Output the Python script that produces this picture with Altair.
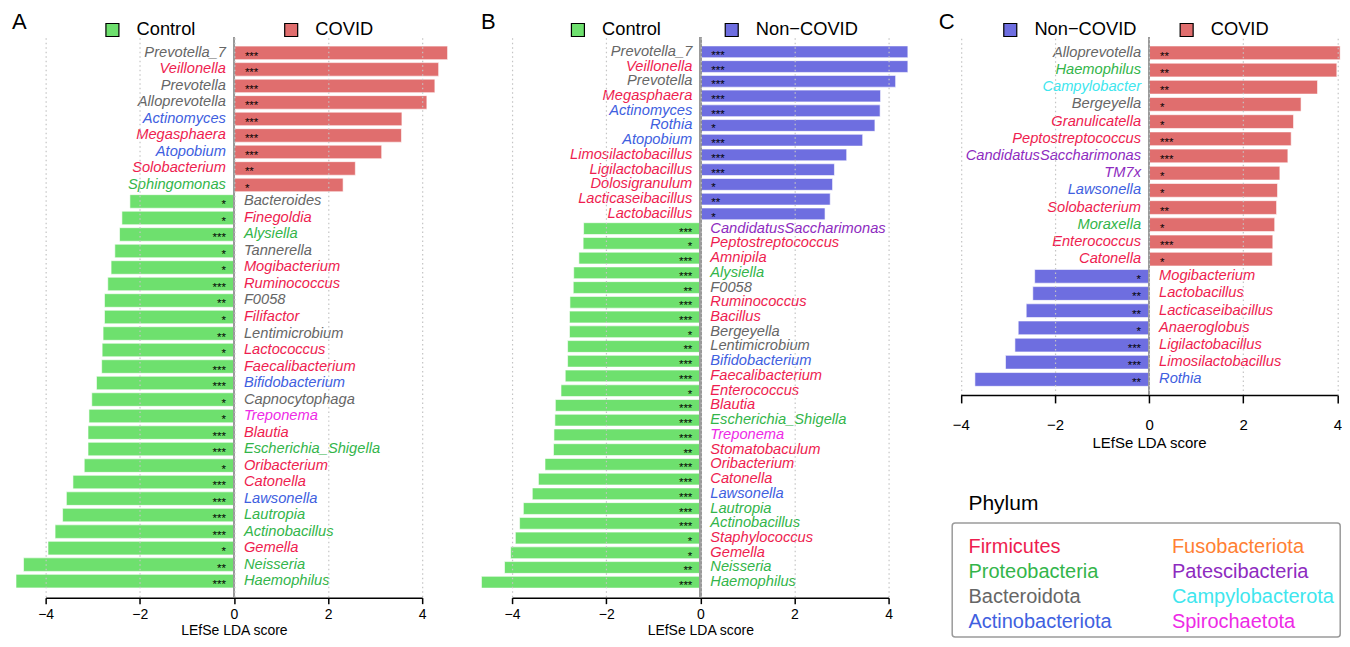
import altair as alt
import pandas as pd

FONT = "Liberation Sans"

# ---------------- phylum palette ----------------
PHYLA = ["Firmicutes", "Proteobacteria", "Bacteroidota", "Actinobacteriota",
         "Fusobacteriota", "Patescibacteria", "Campylobacterota", "Spirochaetota"]
PHYLUM_COLORS = ["#EE1D4F", "#33B54A", "#666666", "#4060E0",
                 "#FF8033", "#8E2BC0", "#40E6EE", "#EE2AE6"]
PH_COL = [0, 0, 0, 0, 1, 1, 1, 1]
PH_ROW = [0, 1, 2, 3, 0, 1, 2, 3]

FI, PR, BA, AC, FU, PA, CA, SP = PHYLA

GROUP_COLORS = {"Control": "#6EE06E", "COVID": "#E06E6E", "Non\u2212COVID": "#6E6EE0"}

# ---------------- panel A: Control vs COVID ----------------
a_genus = ["Prevotella_7", "Veillonella", "Prevotella", "Alloprevotella", "Actinomyces",
           "Megasphaera", "Atopobium", "Solobacterium", "Sphingomonas", "Bacteroides",
           "Finegoldia", "Alysiella", "Tannerella", "Mogibacterium", "Ruminococcus", "F0058",
           "Filifactor", "Lentimicrobium", "Lactococcus", "Faecalibacterium", "Bifidobacterium",
           "Capnocytophaga", "Treponema", "Blautia", "Escherichia_Shigella", "Oribacterium",
           "Catonella", "Lawsonella", "Lautropia", "Actinobacillus", "Gemella", "Neisseria",
           "Haemophilus"]
a_lda = [4.54, 4.35, 4.27, 4.10, 3.57, 3.56, 3.14, 2.58, 2.32, -2.21,
         -2.38, -2.43, -2.53, -2.61, -2.68, -2.75, -2.75, -2.78, -2.80, -2.81,
         -2.92, -3.02, -3.08, -3.10, -3.10, -3.18, -3.42, -3.56, -3.64, -3.80,
         -3.95, -4.47, -4.63]
a_sig = ["***", "***", "***", "***", "***", "***", "***", "**", "*", "*",
         "*", "***", "*", "*", "***", "**", "*", "**", "*", "***",
         "***", "*", "*", "***", "***", "*", "***", "***", "***", "***",
         "*", "**", "***"]
a_phylum = [BA, FI, BA, BA, AC, FI, AC, FI, PR, BA,
            FI, PR, BA, FI, FI, BA, FI, BA, FI, FI,
            AC, BA, SP, FI, PR, FI, FI, AC, PR, PR,
            FI, PR, PR]
a_groups = ["Control", "COVID"]

# ---------------- panel B: Control vs Non-COVID ----------------
b_genus = ["Prevotella_7", "Veillonella", "Prevotella", "Megasphaera", "Actinomyces", "Rothia",
           "Atopobium", "Limosilactobacillus", "Ligilactobacillus", "Dolosigranulum",
           "Lacticaseibacillus", "Lactobacillus", "CandidatusSaccharimonas", "Peptostreptococcus",
           "Amnipila", "Alysiella", "F0058", "Ruminococcus", "Bacillus", "Bergeyella",
           "Lentimicrobium", "Bifidobacterium", "Faecalibacterium", "Enterococcus", "Blautia",
           "Escherichia_Shigella", "Treponema", "Stomatobaculum", "Oribacterium", "Catonella",
           "Lawsonella", "Lautropia", "Actinobacillus", "Staphylococcus", "Gemella",
           "Neisseria", "Haemophilus"]
b_lda = [4.41, 4.41, 4.15, 3.83, 3.82, 3.71, 3.45, 3.11, 2.85, 2.81,
         2.76, 2.65, -2.48, -2.49, -2.58, -2.69, -2.70, -2.77, -2.78, -2.78,
         -2.82, -2.82, -2.87, -2.96, -3.08, -3.09, -3.11, -3.12, -3.30, -3.44,
         -3.57, -3.76, -3.84, -3.93, -4.03, -4.16, -4.65]
b_sig = ["***", "***", "***", "***", "***", "*", "***", "***", "***", "*",
         "**", "*", "***", "*", "***", "***", "**", "***", "***", "*",
         "**", "***", "***", "*", "***", "***", "***", "**", "***", "***",
         "***", "***", "***", "*", "*", "**", "***"]
b_phylum = [BA, FI, BA, FI, AC, AC, AC, FI, FI, FI,
            FI, FI, PA, FI, FI, PR, BA, FI, FI, BA,
            BA, AC, FI, FI, FI, PR, SP, FI, FI, FI,
            AC, PR, PR, FI, FI, PR, PR]
b_groups = ["Control", "Non\u2212COVID"]

# ---------------- panel C: Non-COVID vs COVID ----------------
c_genus = ["Alloprevotella", "Haemophilus", "Campylobacter", "Bergeyella", "Granulicatella",
           "Peptostreptococcus", "CandidatusSaccharimonas", "TM7x", "Lawsonella",
           "Solobacterium", "Moraxella", "Enterococcus", "Catonella", "Mogibacterium",
           "Lactobacillus", "Lacticaseibacillus", "Anaeroglobus", "Ligilactobacillus",
           "Limosilactobacillus", "Rothia"]
c_lda = [4.06, 3.99, 3.58, 3.23, 3.07, 3.02, 2.95, 2.78, 2.73, 2.71,
         2.67, 2.63, 2.62, -2.43, -2.47, -2.61, -2.78, -2.85, -3.05, -3.70]
c_sig = ["**", "**", "**", "*", "*", "***", "***", "*", "*", "**",
         "*", "***", "*", "*", "**", "**", "*", "***", "***", "**"]
c_phylum = [BA, PR, CA, BA, FI, FI, PA, PA, AC, FI,
            PR, FI, FI, FI, FI, FI, FI, FI, FI, AC]
c_groups = ["Non\u2212COVID", "COVID"]

XTICKS = [-4, -2, 0, 2, 4]


def panel(genus, lda, sig, phylum, groups, letter, legend_x, legend_y,
          title_pad, col_pad, height, p_inner, p_outer, axis_style,
          width=377, x_range=None):
    df = pd.DataFrame({"genus": genus, "lda": lda, "sig": sig, "phylum": phylum})
    df["group"] = [groups[1] if v > 0 else groups[0] for v in lda]

    if x_range is None:
        xscale = alt.Scale(domain=[-4, 4], nice=False, zero=False)
    else:
        xscale = alt.Scale(domain=[-4, 4], range=x_range, nice=False, zero=False)
    xaxis = alt.Axis(values=XTICKS, grid=True, gridDash=[1.5, 3], gridColor="#c4c4c4",
                     gridWidth=1.2, domainColor="black", domainWidth=1.5,
                     tickColor="black", tickWidth=1.5, labelColor="black", labelFont=FONT,
                     labelFlush=False, title="LEfSe LDA score", titleFontWeight="normal",
                     titleColor="black", titleFont=FONT, zindex=1, **axis_style)
    y = alt.Y("genus:N", sort=genus, axis=None,
              scale=alt.Scale(paddingInner=p_inner, paddingOuter=p_outer))
    phylum_color = alt.Color("phylum:N", legend=None,
                             scale=alt.Scale(domain=PHYLA, range=PHYLUM_COLORS))
    base = alt.Chart(df)

    bars = base.mark_bar(stroke="white", strokeWidth=0.6).encode(
        x=alt.X("lda:Q", scale=xscale, axis=xaxis),
        x2=alt.X2(datum=0),
        y=y,
        color=alt.Color(
            "group:N",
            scale=alt.Scale(domain=groups, range=[GROUP_COLORS[g] for g in groups]),
            legend=alt.Legend(
                orient="none", legendX=legend_x, legendY=legend_y,
                direction="horizontal", columns=2,
                title=letter, titleOrient="left", titleFontSize=22, titleFont=FONT,
                titleFontWeight="normal", titleColor="black", titlePadding=title_pad,
                titleAnchor="middle", titleBaseline="alphabetic",
                labelFontSize=18.3, labelFont=FONT, labelColor="black", labelOffset=15,
                columnPadding=col_pad, symbolType="square", symbolSize=169,
                symbolStrokeColor="black", symbolStrokeWidth=1.2, symbolOpacity=1,
                labelLimit=300),
        ),
    )

    zero_line = base.mark_rule(color="#9a9a9a", strokeWidth=1.5).encode(
        x=alt.X(datum=0, scale=xscale, axis=xaxis))

    pos = base.transform_filter("datum.lda > 0")
    neg = base.transform_filter("datum.lda < 0")

    lab_pos = pos.mark_text(align="right", baseline="middle", dx=-8, font=FONT,
                            fontSize=14.7, fontStyle="italic").encode(
        x=alt.X(datum=0, scale=xscale, axis=xaxis), y=y, text="genus:N", color=phylum_color)
    lab_neg = neg.mark_text(align="left", baseline="middle", dx=10, font=FONT,
                            fontSize=14.7, fontStyle="italic").encode(
        x=alt.X(datum=0, scale=xscale, axis=xaxis), y=y, text="genus:N", color=phylum_color)

    star_pos = pos.mark_text(align="left", baseline="alphabetic", dx=11, dy=7, font=FONT,
                             fontSize=11.5, color="black").encode(
        x=alt.X(datum=0, scale=xscale, axis=xaxis), y=y, text="sig:N")
    star_neg = neg.mark_text(align="right", baseline="alphabetic", dx=-8, dy=7, font=FONT,
                             fontSize=11.5, color="black").encode(
        x=alt.X(datum=0, scale=xscale, axis=xaxis), y=y, text="sig:N")

    return alt.layer(bars, zero_line, lab_pos, lab_neg, star_pos, star_neg).resolve_scale(
        color="independent").properties(width=width, height=height)


AXIS_TALL = dict(offset=1, tickSize=6, labelFontSize=14, labelPadding=4,
                 titleFontSize=14, titlePadding=2)
AXIS_C = dict(offset=0, tickSize=8, labelFontSize=15, labelPadding=15,
              titleFontSize=15, titlePadding=2.5)

A = panel(a_genus, a_lda, a_sig, a_phylum, a_groups, "A", -33.6, -17, 76.3, 86,
          560, 0.18, 0.53, AXIS_TALL)
B = panel(b_genus, b_lda, b_sig, b_phylum, b_groups, "B", -31, -17, 72.8, 61,
          560, 0.2, 0.58, AXIS_TALL)
C = panel(c_genus, c_lda, c_sig, c_phylum, c_groups, "C", -13.4, -17, 46.4, 40.6,
          358, 0.2, 0.5, AXIS_C, width=385.6, x_range=[8.6, 385.6])

# ---------------- phylum legend box ----------------
ph_df = pd.DataFrame({"phylum": PHYLA, "col": PH_COL, "row": PH_ROW})
phylum_box = alt.Chart(ph_df).mark_text(
    align="left", baseline="middle", font=FONT, fontSize=20).encode(
    x=alt.X("col:Q", axis=None, scale=alt.Scale(domain=[-0.08, 1.8272], nice=False, zero=False)),
    y=alt.Y("row:Q", axis=None,
            scale=alt.Scale(domain=[-0.944, 3.598], reverse=True, nice=False, zero=False)),
    text="phylum:N",
    color=alt.Color("phylum:N", legend=None, scale=alt.Scale(domain=PHYLA, range=PHYLUM_COLORS)),
).properties(
    width=388.5, height=114,
    view=alt.ViewBackground(stroke="#9a9a9a", strokeWidth=1.5, cornerRadius=3),
    title=alt.TitleParams("Phylum", anchor="start", frame="group", dx=16.3, fontSize=21,
                          fontWeight="normal", font=FONT, color="black",
                          baseline="alphabetic", offset=-8),
)

right = alt.vconcat(C, phylum_box, spacing=41.3).resolve_scale(
    color="independent", x="independent", y="independent")
left = alt.hconcat(A, B, spacing=33).resolve_scale(
    color="independent", x="independent", y="independent")

chart = alt.hconcat(left, right, spacing=29.7).resolve_scale(
    color="independent", x="independent", y="independent"
).properties(
    padding={"left": 3.7, "top": 12, "right": 0, "bottom": 0}
).configure(font=FONT).configure_view(stroke=None)

chart.save("out.html", embed_options={"renderer": "svg", "actions": False})
